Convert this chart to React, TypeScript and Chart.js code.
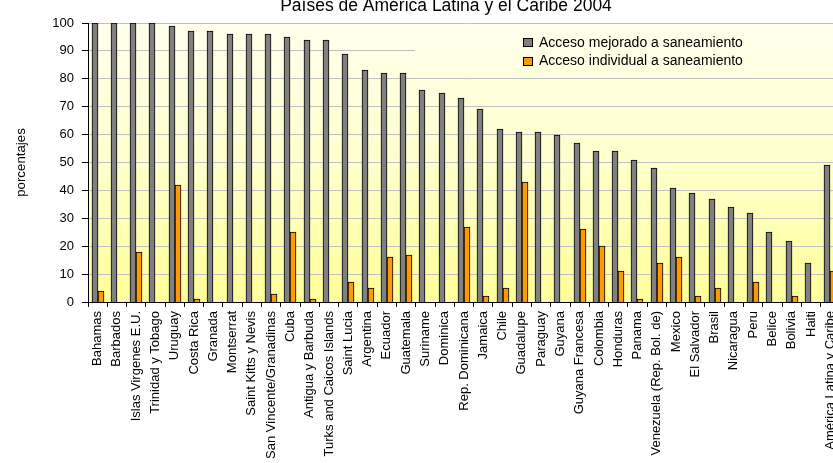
import React, { useEffect, useRef } from "react";
import { Chart, registerables } from "chart.js";

Chart.register(...registerables);

const TITLE = "Países de América Latina y el Caribe 2004";
const Y_TITLE = "porcentajes";
const SERIES_NAMES = ["Acceso mejorado a saneamiento", "Acceso individual a saneamiento"];

const categories = [
  "Bahamas", "Barbados", "Islas Virgenes E.U.", "Trinidad y Tobago", "Uruguay", "Costa Rica",
  "Granada", "Montserrat", "Saint Kitts y Nevis", "San Vincente/Granadinas", "Cuba",
  "Antigua y Barbuda", "Turks and Caicos Islands", "Saint Lucia", "Argentina", "Ecuador",
  "Guatemala", "Suriname", "Dominica", "Rep. Dominicana", "Jamaica", "Chile", "Guadalupe",
  "Paraguay", "Guyana", "Guyana Francesa", "Colombia", "Honduras", "Panama",
  "Venezuela (Rep. Bol. de)", "Mexico", "El Salvador", "Brasil", "Nicaragua", "Peru",
  "Belice", "Bolivia", "Haiti", "América Latina y Caribe",
];

const mejorado = [
  100, 100, 100, 100, 99, 97, 97, 96, 96, 96, 95, 94, 94, 89, 83, 82, 82, 76, 75, 73,
  69, 62, 61, 61, 60, 57, 54, 54, 51, 48, 41, 39, 37, 34, 32, 25, 22, 14, 49,
];

const individual: (number | null)[] = [
  4, null, 18, null, 42, 1, null, null, null, 3, 25, 1, null, 7, 5, 16, 17, null, null, 27,
  2, 5, 43, null, null, 26, 20, 11, 1, 14, 16, 2, 5, null, 7, null, 2, null, 11,
];

const Y_MIN = 0;
const Y_MAX = 100;
const Y_STEP = 10;

const FONT = "'Liberation Sans', Arial, sans-serif";
const GRAY = "#808080";
const ORANGE = "#FF9900";

export default function App() {
  const ref = useRef<HTMLCanvasElement | null>(null);

  useEffect(() => {
    if (!ref.current) return;
    let grad: CanvasGradient | null = null;
    const deco = {
      id: "deco",
      afterDatasetsUpdate(chart: any) {
        chart.data.datasets.forEach((_: any, i: number) => {
          const meta = chart.getDatasetMeta(i);
          meta.data.forEach((el: any) => {
            const w = el.width;
            if (!isFinite(el.x) || !isFinite(w)) return;
            const left = Math.round(el.x - w / 2);
            el.x = left + w / 2;
            if (isFinite(el.y)) el.y = Math.round(el.y);
            if (isFinite(el.base)) el.base = Math.round(el.base);
          });
        });
      },
      beforeDraw(chart: any) {
        const { ctx, chartArea: a } = chart;
        ctx.save();
        ctx.fillStyle = "#ffffff";
        ctx.fillRect(0, 0, chart.width, chart.height);
        grad = ctx.createLinearGradient(0, a.top, 0, a.bottom);
        grad.addColorStop(0, "#FFFFEC");
        grad.addColorStop(0.5, "#FFFFCC");
        grad.addColorStop(1, "#FFFF99");
        ctx.fillStyle = grad;
        ctx.fillRect(a.left, a.top, a.right - a.left, a.bottom - a.top);
        ctx.restore();
      },
      afterDatasetsDraw(chart: any) {
        const { ctx } = chart;
        ctx.save();
        if (grad) {
          ctx.fillStyle = grad;
          ctx.fillRect(415, 26, chart.width - 415, 44);
        }
        const colors = [GRAY, ORANGE];
        ctx.font = `14px ${FONT}`;
        ctx.textAlign = "left";
        ctx.textBaseline = "alphabetic";
        SERIES_NAMES.forEach((name, i) => {
          const y = 38 + i * 18.5;
          ctx.fillStyle = colors[i];
          ctx.fillRect(523, Math.round(y), 10, 9);
          ctx.strokeStyle = "#000";
          ctx.lineWidth = 1;
          ctx.strokeRect(523.5, Math.round(y) + 0.5, 9, 8);
          ctx.fillStyle = "#000";
          ctx.fillText(name, 539, y + 8.5);
        });
        ctx.restore();
      },
      afterDraw(chart: any) {
        const { ctx } = chart;
        ctx.save();
        ctx.font = `17.5px ${FONT}`;
        ctx.fillStyle = "#000";
        ctx.textAlign = "center";
        ctx.textBaseline = "alphabetic";
        ctx.fillText(TITLE, 446, 11);
        ctx.restore();
      },
    };

    const chart = new Chart(ref.current, {
      type: "bar",
      data: {
        labels: categories,
        datasets: [
          {
            label: SERIES_NAMES[0],
            data: mejorado,
            backgroundColor: GRAY,
            borderColor: "#000",
            borderWidth: 1,
            barThickness: 6,
          },
          {
            label: SERIES_NAMES[1],
            data: individual,
            backgroundColor: ORANGE,
            borderColor: "#000",
            borderWidth: 1,
            barThickness: 6,
          },
        ],
      },
      options: {
        responsive: false,
        animation: false,
        devicePixelRatio: 1,
        layout: { padding: { top: 23, right: 9, left: 0, bottom: 0 } },
        plugins: {
          legend: { display: false },
          title: { display: false },
          tooltip: { enabled: false },
        },
        scales: {
          x: {
            offset: true,
            grid: {
              offset: true,
              drawOnChartArea: false,
              drawTicks: true,
              tickLength: 5,
              tickColor: "#000",
            },
            border: { display: true, color: "#000", width: 1 },
            ticks: {
              autoSkip: false,
              maxRotation: 90,
              minRotation: 90,
              padding: 4,
              color: "#000",
              font: { family: FONT, size: 13 },
            },
            afterFit(scale: any) {
              scale.height = 161;
            },
          },
          y: {
            min: Y_MIN,
            max: Y_MAX,
            grid: {
              color: "#C0C0C0",
              drawTicks: true,
              tickLength: 6,
              tickColor: "#000",
            },
            border: { display: true, color: "#000", width: 1 },
            ticks: {
              stepSize: Y_STEP,
              padding: 8,
              color: "#000",
              font: { family: FONT, size: 13 },
            },
            title: {
              display: true,
              text: Y_TITLE,
              color: "#000",
              font: { family: FONT, size: 13.3 },
              padding: { top: 13, bottom: 0 },
            },
            afterFit(scale: any) {
              scale.width = 88;
            },
          },
        },
      },
      plugins: [deco],
    });
    return () => chart.destroy();
  }, []);

  return (
    <div
      style={{
        position: "absolute",
        left: 0,
        top: 0,
        width: 833,
        height: 463,
        overflow: "hidden",
        background: "#fff",
      }}
    >
      <canvas ref={ref} width={850} height={463} style={{ display: "block" }} />
    </div>
  );
}
